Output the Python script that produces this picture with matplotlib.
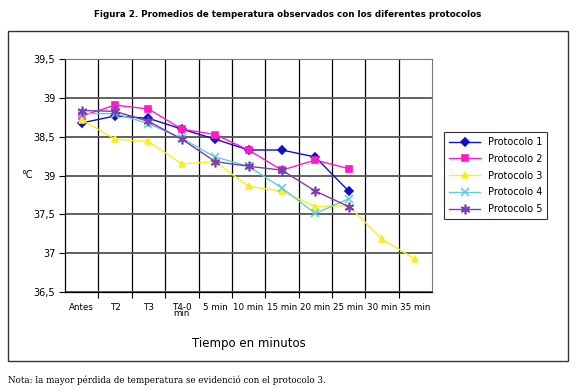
import matplotlib.pyplot as plt
from matplotlib.patches import Rectangle

# Datos
categorias = ['Antes', 'T2', 'T3', 'T4-0\nmin', '5 min', '10 min', '15 min',
              '20 min', '25 min', '30 min', '35 min']
protocolo_1 = [38.68, 38.77, 38.74, 38.60, 38.47, 38.33, 38.33, 38.24, 37.80]
protocolo_2 = [38.77, 38.91, 38.86, 38.60, 38.53, 38.33, 38.07, 38.20, 38.09]
protocolo_3 = [38.72, 38.47, 38.44, 38.15, 38.18, 37.86, 37.80, 37.60, 37.61, 37.18, 36.92]
protocolo_4 = [38.80, 38.80, 38.67, 38.48, 38.24, 38.12, 37.84, 37.51, 37.70]
protocolo_5 = [38.84, 38.83, 38.70, 38.47, 38.18, 38.12, 38.07, 37.80, 37.60]
y_ticks = [36.5, 37, 37.5, 38, 38.5, 39, 39.5]
y_labels = ['36,5', '37', '37,5', '39', '38,5', '39', '39,5']  # tal cual aparece en la figura

series = [
    ('Protocolo 1', protocolo_1, '#1010c8', 'D', 4),
    ('Protocolo 2', protocolo_2, '#ff1acc', 's', 5),
    ('Protocolo 3', protocolo_3, '#f5f01e', '^', 5),
    ('Protocolo 4', protocolo_4, '#66ccdd', 'x', 6),
    ('Protocolo 5', protocolo_5, '#7a3fb0', (6, 2, 0), 7),
]

fig = plt.figure(figsize=(5.76, 3.91), dpi=100)
ax = fig.add_axes([0.113, 0.254, 0.637, 0.594])

for nombre, valores, color, marcador, tam in series:
    ax.plot(range(len(valores)), valores, color=color, marker=marcador, markersize=tam,
            linewidth=1, label=nombre, markeredgewidth=1.2)

ax.set_xlim(-0.5, len(categorias) - 0.5)
ax.set_ylim(36.5, 39.5)
ax.set_xticks(range(len(categorias)))
ax.set_xticklabels(categorias, fontsize=6.3, linespacing=0.6)
ax.set_xticks([i + 0.5 for i in range(len(categorias) - 1)], minor=True)
ax.tick_params(axis='x', which='major', length=0, pad=8)
ax.tick_params(axis='x', which='minor', length=4, width=0.8)
ax.set_yticks(y_ticks)
ax.set_yticklabels(y_labels, fontsize=7)
ax.tick_params(axis='y', length=4, width=0.8, pad=3)
ax.grid(True, axis='y', color='#555555', linewidth=1.3)
ax.grid(True, axis='x', which='minor', color='black', linewidth=0.9)
for s in ['top', 'right']:
    ax.spines[s].set_color('#777777')
ax.spines['left'].set_linewidth(0.9)
ax.spines['bottom'].set_linewidth(0.9)

ax.set_xlabel('Tiempo en minutos', fontsize=8.5, labelpad=14)
fig.text(0.036, 0.552, '°C', fontsize=7, va='center', ha='left')

leg = ax.legend(loc='center left', bbox_to_anchor=(1.02, 0.5), fontsize=7,
                frameon=True, fancybox=False, edgecolor='black', borderpad=0.5,
                handlelength=3.2, labelspacing=0.7)
leg.get_frame().set_linewidth(0.8)

fig.patches.append(Rectangle((0.014, 0.077), 0.972, 0.844, transform=fig.transFigure,
                             fill=False, edgecolor='#333333', linewidth=1))
fig.text(0.5, 0.963, 'Figura 2. Promedios de temperatura observados con los diferentes protocolos',
         ha='center', va='center', fontsize=6.3, fontweight='bold')
fig.text(0.014, 0.028, 'Nota: la mayor pérdida de temperatura se evidenció con el protocolo 3.',
         ha='left', va='center', fontsize=6.3, family='DejaVu Serif')

fig.savefig('out.png', dpi=100)
